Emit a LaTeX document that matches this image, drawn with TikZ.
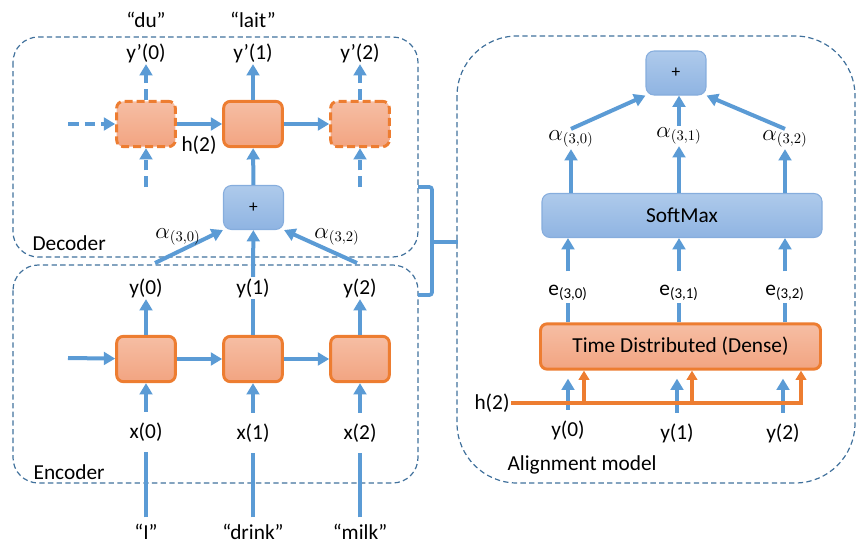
\documentclass[tikz,border=0pt]{standalone}
\usepackage{fontspec}
\setmainfont{Carlito}
\usetikzlibrary{arrows.meta,positioning}
\definecolor{flowblue}{HTML}{5B9BD5}
\definecolor{cellline}{HTML}{ED7D31}
\definecolor{celltop}{HTML}{F6BEA4}
\definecolor{cellbottom}{HTML}{F2A481}
\definecolor{boxtop}{HTML}{AECAEB}
\definecolor{boxbottom}{HTML}{8FB4E2}
\definecolor{boxline}{HTML}{86ADDD}
\definecolor{frameline}{HTML}{41719C}

\begin{document}
\begin{tikzpicture}[x=0.75pt, y=-0.75pt, font=\fontsize{16}{19}\selectfont,
    every node/.style={inner sep=1pt},
    cell/.style={draw=cellline, line width=2.2pt, rounded corners=5pt, top color=celltop, bottom color=cellbottom, minimum width=44pt, minimum height=34pt},
    ghost/.style={cell, dash pattern=on 6pt off 3pt},
    sumbox/.style={draw=boxline, line width=0.8pt, rounded corners=6pt, top color=boxtop, bottom color=boxbottom, minimum width=45pt, minimum height=33pt, font=\fontsize{13}{15}\selectfont},
    frame/.style={draw=frameline, line width=0.9pt, dash pattern=on 4pt off 2.5pt},
    flow/.style={draw=flowblue, line width=3pt, >={Triangle[length=8.5pt,width=9.5pt]}},
    ghostflow/.style={flow, dash pattern=on 8pt off 4.5pt},
    hflow/.style={draw=cellline, line width=2.6pt, >={Triangle[length=7pt,width=8pt]}},
    tall/.style={inner ysep=8pt}]
    \useasboundingbox (0,0) rectangle (857,543);

    \draw[frame, rounded corners=19pt] (13,37) rectangle (418,257);
    \draw[frame, rounded corners=19pt] (13,265) rectangle (418,483);
    \draw[frame, rounded corners=45pt] (457,36) rectangle (855,483);

    \node[anchor=west] (declabel) at (31,243) {Decoder};
    \node[anchor=west] (enclabel) at (32,472) {Encoder};
    \node[anchor=west] (alilabel) at (506,465) {Alignment model};

    \node[ghost] (d0) at (146,124) {};
    \node[cell] (d1) at (253,124) {};
    \node[ghost] (d2) at (360,124) {};
    \node[sumbox] (dsum) at (253.5,207.5) {+};
    \node (yp0) at (146,53) {y’(0)};
    \node (yp1) at (253,53) {y’(1)};
    \node (yp2) at (360,53) {y’(2)};
    \node (fr0) at (146,20) {“du”};
    \node (fr1) at (253,20) {“lait”};
    \node (hdec) at (199,145) {h(2)};
    \coordinate (din) at (68,124);
    \coordinate (dup0) at (146,187);
    \coordinate (dup2) at (360,187);
    \draw[ghostflow,->] (din) -- (d0);
    \draw[flow,->] (d0) -- (d1);
    \draw[flow,->] (d1) -- (d2);
    \draw[ghostflow,->] (d0) -- (yp0);
    \draw[flow,->] (d1) -- (yp1);
    \draw[ghostflow,->] (d2) -- (yp2);
    \draw[ghostflow,->] (dup0) -- (d0);
    \draw[ghostflow,->] (dup2) -- (d2);
    \draw[flow,->] (dsum) -- (d1);

    \node[cell] (e0) at (146,359) {};
    \node[cell] (e1) at (253,359) {};
    \node[cell] (e2) at (360,359) {};
    \node (y0) at (146,288) {y(0)};
    \node (y1) at (253,288) {y(1)};
    \node (y2) at (360,288) {y(2)};
    \node[tall] (x0) at (146,432) {x(0)};
    \node[tall] (x1) at (253,433) {x(1)};
    \node[tall] (x2) at (360,433) {x(2)};
    \node (w0) at (146,532) {“I”};
    \node (w1) at (253,532) {“drink”};
    \node (w2) at (360,532) {“milk”};
    \coordinate (ein) at (68,358);
    \draw[flow,->] (ein) -- (e0);
    \draw[flow,->] (e0) -- (e1);
    \draw[flow,->] (e1) -- (e2);
    \draw[flow,->] (e0) -- (y0);
    \draw[flow] (e1) -- (y1);
    \draw[flow,->] (e2) -- (y2);
    \draw[flow,->] (x0) -- (e0);
    \draw[flow,->] (x1) -- (e1);
    \draw[flow,->] (x2) -- (e2);
    \draw[flow,shorten <=4pt] (w0) -- (x0);
    \draw[flow,shorten <=4pt] (w1) -- (x1);
    \draw[flow,shorten <=4pt] (w2) -- (x2);

    \coordinate (a0) at (155,263);
    \coordinate (a2) at (357,263);
    \draw[flow,->] (a0) -- (dsum.south west);
    \draw[flow,->] (y1) -- (dsum);
    \draw[flow,->] (a2) -- (dsum.south east);
    \node (wt0) at (178,237) {$\alpha_{(3,0)}$};
    \node (wt2) at (337,237) {$\alpha_{(3,2)}$};

    \draw[flow, line width=2.8pt, rounded corners=2pt] (418,187) -- (432,187) -- (432,295) -- (418,295);
    \draw[flow, line width=2.8pt] (432,242) -- (458,242);

    \node[sumbox] (asum) at (676,73) {+};
    \node[sumbox, minimum width=210pt, font=\fontsize{16}{19}\selectfont] (smax) at (682,215.5) {SoftMax};
    \node[cell, minimum width=210pt] (td) at (680.5,346.5) {Time Distributed (Dense)};
    \node (al0) at (571,139) {$\alpha_{(3,0)}$};
    \node (al1) at (679,136) {$\alpha_{(3,1)}$};
    \node (al2) at (785,139) {$\alpha_{(3,2)}$};
    \draw[flow,->] (al0 |- smax.north) -- (al0);
    \draw[flow,->] (al1 |- smax.north) -- (al1);
    \draw[flow,->] (al2 |- smax.north) -- (al2);
    \draw[flow,->] (al0.north) -- (asum.south west);
    \draw[flow,->] (al1.north) -- (al1.north |- asum.south);
    \draw[flow,->] (al2.north) -- (asum.south east);

    \node (ee0) at (568,293) {e\textsubscript{(3,0)}};
    \node (ee1) at (679,293) {e\textsubscript{(3,1)}};
    \node (ee2) at (785,293) {e\textsubscript{(3,2)}};
    \draw[flow,->,shorten <=9pt] (ee0) -- (ee0 |- smax.south);
    \draw[flow,->,shorten <=9pt] (ee1) -- (ee1 |- smax.south);
    \draw[flow,->,shorten <=9pt] (ee2) -- (ee2 |- smax.south);
    \draw[flow] (ee0 |- td.north) -- (ee0);
    \draw[flow] (ee1 |- td.north) -- (ee1);
    \draw[flow] (ee2 |- td.north) -- (ee2);

    \node[tall] (ay0) at (568,430) {y(0)};
    \node[tall] (ay1) at (677,433) {y(1)};
    \node[tall] (ay2) at (783,433) {y(2)};
    \draw[flow,->,shorten >=6pt] (ay0) -- (ay0 |- td.south);
    \draw[flow,->,shorten >=6pt] (ay1) -- (ay1 |- td.south);
    \draw[flow,->,shorten >=6pt] (ay2) -- (ay2 |- td.south);
    \node (halign) at (492,403) {h(2)};
    \coordinate (hj0) at (584,403);
    \coordinate (hj1) at (692,403);
    \coordinate (hj2) at (801,403);
    \draw[hflow,->] (halign) -| (hj2 |- td.south);
    \draw[hflow,->] (hj0) -- (hj0 |- td.south);
    \draw[hflow,->] (hj1) -- (hj1 |- td.south);
\end{tikzpicture}
\end{document}
